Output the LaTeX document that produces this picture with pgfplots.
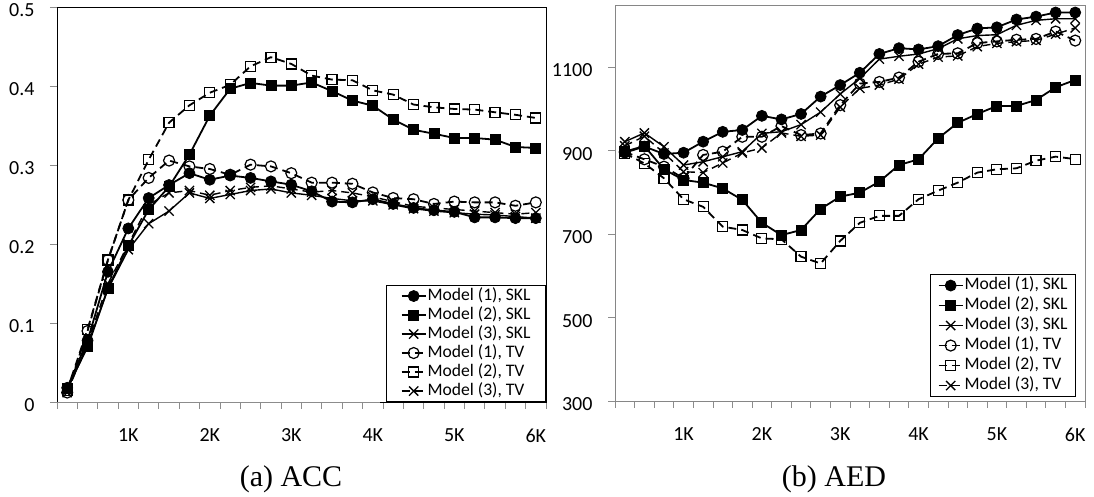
\documentclass[border=0pt]{standalone}
\usepackage{fontspec}
\setmainfont{Carlito}
\newfontfamily\capfont{Liberation Serif}
\usepackage{pgfplots}
\usepackage{pgfplotstable}
\pgfplotsset{compat=1.18}

\pgfplotstableread{
x a b c d e f
0.25 0.018 0.017 0.015 0.012 0.015 0.012
0.50 0.078 0.070 0.072 0.090 0.092 0.075
0.75 0.165 0.144 0.143 0.180 0.180 0.150
1.00 0.220 0.198 0.193 0.256 0.256 0.200
1.25 0.2585 0.2437 0.226 0.284 0.307 0.250
1.50 0.275 0.273 0.242 0.306 0.354 0.265
1.75 0.290 0.3135 0.265 0.2986 0.376 0.268
2.00 0.2817 0.363 0.258 0.2953 0.392 0.262
2.25 0.287 0.397 0.263 0.288 0.402 0.268
2.50 0.284 0.4044 0.268 0.3008 0.4255 0.272
2.75 0.2796 0.401 0.270 0.2986 0.437 0.274
3.00 0.2754 0.401 0.265 0.290 0.4285 0.270
3.25 0.267 0.405 0.262 0.278 0.4137 0.266
3.50 0.254 0.394 0.258 0.278 0.4086 0.268
3.75 0.253 0.382 0.255 0.2766 0.4078 0.265
4.00 0.257 0.3756 0.255 0.2656 0.395 0.260
4.25 0.251 0.358 0.250 0.2585 0.3896 0.254
4.50 0.246 0.345 0.245 0.257 0.377 0.248
4.75 0.243 0.340 0.242 0.251 0.3735 0.246
5.00 0.241 0.3346 0.240 0.254 0.3714 0.244
5.25 0.234 0.3346 0.238 0.253 0.3706 0.242
5.50 0.234 0.3325 0.237 0.253 0.3672 0.240
5.75 0.233 0.3232 0.235 0.2487 0.364 0.238
6.00 0.233 0.322 0.233 0.253 0.360 0.240
}\acc

\pgfplotstableread{
x a b c d e f
0.25 895.6 898.1 922 897.5 894.2 912
0.50 910.4 911.8 943 879.8 870.0 935
0.75 892.6 855.8 910 862.1 834.3 895
1.00 895.6 830.3 866 834.3 783.9 850
1.25 922.1 823.8 874 890.3 765.8 848
1.50 945.7 810.0 886 898.1 718.3 871
1.75 950.2 782.5 898 933.9 710.2 895
2.00 984.1 727.4 942 933.9 690.0 907
2.25 975.5 697.9 946 959.5 688.0 943
2.50 988.6 710.2 963 937.9 646.2 935
2.75 1030.3 760.8 993 941.8 629.9 938
3.00 1057.9 790.3 1036.5 1009.8 684.0 1005
3.25 1087.4 799.8 1073.9 1061.5 727.4 1050
3.50 1132.6 826.2 1120.1 1065.4 744.1 1058
3.75 1146.4 866.1 1127.0 1075.9 744.1 1072
4.00 1143.4 879.8 1132.4 1114.0 783.9 1108
4.25 1151.3 930.0 1145.2 1132.6 804.7 1125
4.50 1177.9 967.3 1168.8 1134.1 823.8 1128
4.75 1193.6 988.6 1176.7 1158.7 847.9 1150
5.00 1196.5 1007.7 1178.7 1162.7 855.9 1158
5.25 1215.2 1007.7 1201.3 1166.6 858.2 1162
5.50 1222.1 1022.1 1213.1 1168.6 876.6 1165
5.75 1232.0 1052.5 1217.0 1186.3 886.2 1180
6.00 1232.0 1070.3 1217.0 1164.6 880.3 1195
}\aed

\pgfplotsset{
  common/.style={
    scale only axis,
    xmin=0.125, xmax=6.125,
    xtick={1,2,3,4,5,6}, xticklabels={1K,2K,3K,4K,5K,6K},
    minor xtick={0.125,0.375,0.625,0.875,1.125,1.375,1.625,1.875,2.125,2.375,2.625,2.875,3.125,3.375,3.625,3.875,4.125,4.375,4.625,4.875,5.125,5.375,5.625,5.875,6.125},
    every major x tick/.append style={draw=none},
    tick align=outside,
    xtick pos=bottom, ytick pos=left,
    minor tick length=7pt, major tick length=7pt,
    tick style={color=gray!90, line width=0.8pt},
    tick label style={font=\fontsize{20}{20}\selectfont, black},
    xticklabel style={yshift=-16pt},
    yticklabel style={xshift=-12pt, yshift=-3pt},
    legend cell align=left,
    legend image code/.code={\draw[mark repeat=2,mark phase=2,##1] plot coordinates {(0pt,0pt) (12pt,0pt) (24pt,0pt)};},
    clip=false,
  },
  sa/.style={black, line width=1.8pt, mark=*, mark size=5.5pt, mark options={solid, line width=0.8pt}},
  sb/.style={black, line width=1.8pt, mark=square*, mark size=5pt, mark options={solid, line width=0.8pt}},
  sc/.style={black, line width=1.4pt, mark=x, mark size=6.5pt, mark options={solid, line width=1.3pt}},
  sd/.style={black, line width=1.8pt, dash pattern=on 8pt off 5pt, mark=o, mark size=5.5pt, mark options={solid, line width=1.2pt}},
  se/.style={black, line width=1.8pt, dash pattern=on 8pt off 5pt, mark=square, mark size=5pt, mark options={solid, line width=1.2pt}},
  sf/.style={black, line width=1.4pt, dash pattern=on 8pt off 5pt, mark=x, mark size=6.5pt, mark options={solid, line width=1.3pt}},
}

\begin{document}
\begin{tikzpicture}
\useasboundingbox (0pt,0pt) rectangle (1094pt,497pt);

\begin{axis}[common,
  at={(57pt,95pt)}, anchor=south west,
  width=489pt, height=394.5pt,
  ymin=0, ymax=0.5,
  ytick={0,0.1,0.2,0.3,0.4,0.5}, yticklabels={0,0.1,0.2,0.3,0.4,0.5},
  axis line style={black, line width=0.9pt},
  legend style={at={(1,0)}, anchor=south east, draw=black, line width=0.9pt, fill=white,
    font=\fontsize{17.6}{19}\selectfont, inner xsep=14pt, inner ysep=1pt, row sep=0pt,
    nodes={inner ysep=0pt, inner xsep=1pt, text height=13.5pt, text depth=5.5pt}},
]
\addplot[sa] table[x=x,y=a]{\acc};
\addplot[sb] table[x=x,y=b]{\acc};
\addplot[sc] table[x=x,y=c]{\acc};
\addplot[sd] table[x=x,y=d]{\acc};
\addplot[se] table[x=x,y=e]{\acc};
\addplot[sf] table[x=x,y=f]{\acc};
\legend{{Model (1), SKL},{Model (2), SKL},{Model (3), SKL},{Model (1), TV},{Model (2), TV},{Model (3), TV}}
\draw[gray!90, line width=0.9pt] (rel axis cs:0,0) -- (rel axis cs:0.66,0);
\end{axis}

\begin{axis}[common,
  at={(615pt,96pt)}, anchor=south west,
  width=470pt, height=396pt,
  ymin=300, ymax=1250,
  ytick={300,500,700,900,1100}, yticklabels={300,500,700,900,1100},
  axis line style={gray!95, line width=0.9pt},
  legend style={at={(1,0)}, anchor=south east, xshift=-9pt, yshift=4pt, draw=black, line width=0.9pt, fill=white,
    font=\fontsize{17.6}{20}\selectfont, inner xsep=7pt, inner ysep=1pt, row sep=0pt,
    nodes={inner ysep=0pt, inner xsep=1pt, text height=14pt, text depth=6pt}},
]
\addplot[sa] table[x=x,y=a]{\aed};
\addplot[sb] table[x=x,y=b]{\aed};
\addplot[sc] table[x=x,y=c]{\aed};
\addplot[sd] table[x=x,y=d]{\aed};
\addplot[se] table[x=x,y=e]{\aed};
\addplot[sf] table[x=x,y=f]{\aed};
\legend{{Model (1), SKL},{Model (2), SKL},{Model (3), SKL},{Model (1), TV},{Model (2), TV},{Model (3), TV}}
\end{axis}

\node[font=\capfont\fontsize{30}{30}\selectfont, anchor=base] at (291pt,10.3pt) {(a) ACC};
\node[font=\capfont\fontsize{30}{30}\selectfont, anchor=base] at (834pt,10.3pt) {(b) AED};
\end{tikzpicture}
\end{document}
